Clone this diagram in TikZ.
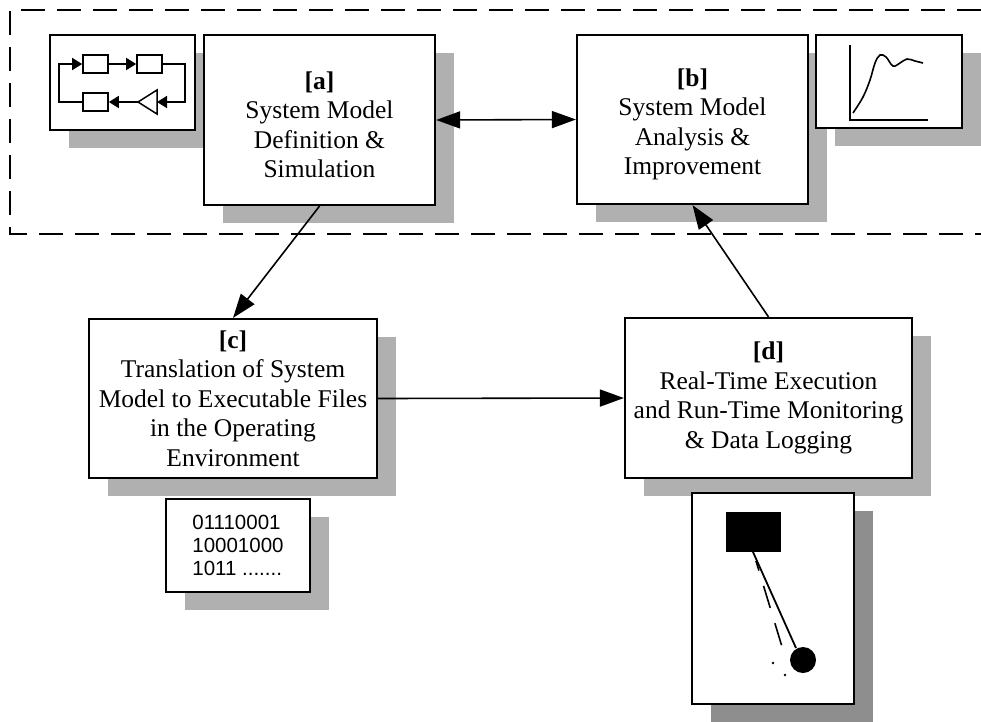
\documentclass[tikz,border=0pt]{standalone}
\usepackage{fontspec}
\setmainfont{Liberation Serif}
\newfontfamily\codefont{Liberation Sans}
\usetikzlibrary{arrows.meta,shadows}

\definecolor{shadowgray}{HTML}{B0B0B0}
\definecolor{darkshadow}{HTML}{8E8E8E}

\tikzset{
  shade box/.style={drop shadow={shadow xshift=19pt, shadow yshift=-18pt,
      fill=#1, opacity=1}},
  box/.style={draw, line width=2.2pt, fill=white, rectangle, inner sep=0pt,
      align=center, font=\fontsize{25.5}{29.5}\selectfont, shade box=shadowgray},
  iconbox/.style={draw, line width=2pt, fill=white, rectangle, inner sep=0pt,
      shade box=shadowgray},
  conn/.style={line width=1.6pt, -{Triangle[length=24pt,width=17pt]}},
  biconn/.style={line width=1.6pt, {Triangle[length=24pt,width=17pt]}-{Triangle[length=24pt,width=17pt]}},
  wirearrow/.style={line width=1.7pt, -{Triangle[length=10pt,width=12pt]}},
  blk/.style={draw, line width=1.7pt, rectangle, inner sep=0pt,
      minimum width=25pt, minimum height=18pt},
  groupline/.style={line width=1.4pt, dash pattern=on 24pt off 12pt}
}

\begin{document}
\begin{tikzpicture}[x=1pt,y=-1pt]
\useasboundingbox (0,0) rectangle (981,721);

% modelling and analysis group
\draw[groupline] (981,10) -- (10,10) -- (10,234) -- (981,234);

% block-diagram icon
\node[iconbox, minimum width=145pt, minimum height=95pt] (model) at (122.5,82.5) {};
\node[blk] (blk1) at (95.5,64) {};
\node[blk] (blk2) at (149.5,64) {};
\node[blk] (blk3) at (95.5,102) {};
\coordinate (gin) at (157,102);
\coordinate (gout) at (138,102);
\draw[line width=1.5pt] (157,90) -- (157,114) -- (138,102) -- cycle;
\draw[wirearrow] (blk1.east) -- (blk2.west);
\draw[wirearrow] (blk2.east) -- (185,64) -- (185,102) -- (gin);
\draw[wirearrow] (gout) -- (blk3.east);
\draw[wirearrow] (blk3.west) -- (59,102) -- (59,64) -- (blk1.west);

% main stages (a strut on the first line lowers the text block a little)
\node[box, minimum width=231pt, minimum height=170pt] (a) at (319.5,120)
  {\rule{0pt}{27pt}\textbf{[a]}\\System Model\\Definition \&\\Simulation};
\node[box, minimum width=231pt, minimum height=169pt] (b) at (692.5,119.5)
  {\rule{0pt}{27pt}\textbf{[b]}\\System Model\\Analysis \&\\Improvement};

% response-curve icon
\node[iconbox, minimum width=146pt, minimum height=93pt] (plot) at (889,81.5) {};
\draw[line width=1.8pt] (850,45) -- (850,120) -- (928,120);
\draw[line width=1.6pt] plot[smooth, tension=0.6] coordinates
  {(853,113) (863,97) (870,80) (875,63) (880,55) (886,57) (893,66) (900,63) (907,59) (915,61) (923,63)};

\node[box, minimum width=288pt, minimum height=159pt] (c) at (233,398.5)
  {\textbf{[c]}\\Translation of System\\Model to Executable Files\\in the Operating\\Environment};

% executable code listing
\node[iconbox, minimum width=144pt, minimum height=93pt, align=left,
      font=\codefont\fontsize{20.5}{23}\selectfont] (code) at (238,545.5)
  {01110001\\10001000\\1011 .......};

\node[box, minimum width=287pt, minimum height=160pt] (d) at (768.5,398)
  {\textbf{[d]}\\Real-Time Execution\\and Run-Time Monitoring\\\& Data Logging};

% pendulum rig
\node[draw, line width=2.2pt, fill=white, rectangle, inner sep=0pt,
      minimum width=162pt, minimum height=211pt, shade box=darkshadow] (rig) at (773,598.5) {};
\fill (726,512) rectangle (781,552);
\draw[line width=1.8pt] (753,552) -- (796,648);
\draw[line width=1.6pt, dash pattern=on 23pt off 16pt, dash phase=13pt]
  (756,561) -- (783,650) -- (787,650);
\fill (803,660) circle (13pt);
\fill (773,663) circle (1.3pt);
\fill (785,675) circle (1.3pt);

% flow between stages
\draw[biconn] (a.east) -- (b.west);
\draw[conn] (a.south) -- (c.north);
\draw[conn] (c.east) -- (d.west);
\draw[conn] (d.north) -- (b.south);
\end{tikzpicture}
\end{document}
